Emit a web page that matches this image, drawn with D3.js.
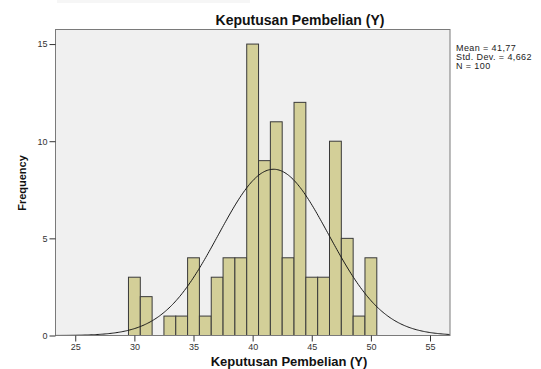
<!DOCTYPE html>
<html>
<head>
<meta charset="utf-8">
<script src="https://cdn.jsdelivr.net/npm/d3@7"></script>
<style>
  body { margin: 0; background: #fff; }
  text { font-family: "Liberation Sans", Arial, sans-serif; }
</style>
</head>
<body>
<script>
// histogram data, bin width 1
var binValues = [30, 31, 32, 33, 34, 35, 36, 37, 38, 39, 40, 41, 42, 43, 44, 45, 46, 47, 48, 49, 50];
var binCounts = [3, 2, 0, 1, 1, 4, 1, 3, 4, 4, 15, 9, 11, 4, 12, 3, 3, 10, 5, 1, 4];
var xTicks = [25, 30, 35, 40, 45, 50, 55];
var yTicks = [0, 5, 10, 15];
var mean = 41.77, sd = 4.662, n = 100;
var statLines = ["Mean = 41,77", "Std. Dev. = 4,662", "N = 100"];

var margin = { top: 29.5, left: 55.5, right: 91, bottom: 33.5 },
    width = 541 - margin.left - margin.right,
    height = 369 - margin.top - margin.bottom;

var svg = d3.select("body").append("svg")
    .attr("width", 541)
    .attr("height", 369);

// faint strip at the top
svg.append("rect")
    .attr("x", 57).attr("y", 0).attr("width", 193).attr("height", 3)
    .attr("fill", "#f6f6f6");

var x = d3.scaleLinear().domain([23.33, 56.69]).range([0, width]);
var y = d3.scaleLinear().domain([0, 15.75]).range([height, 0]);

var g = svg.append("g")
    .attr("transform", "translate(" + margin.left + "," + margin.top + ")");

g.append("rect")
    .attr("width", width).attr("height", height)
    .attr("fill", "#f0f0f0");

g.append("clipPath").attr("id", "clip")
  .append("rect").attr("width", width).attr("height", height);

var bins = binValues.map(function (v, i) { return { v: v, c: binCounts[i] }; })
    .filter(function (d) { return d.c > 0; });

g.selectAll(".bar")
    .data(bins)
    .enter().append("rect")
    .attr("class", "bar")
    .attr("x", function (d) { return x(d.v - 0.5); })
    .attr("width", function (d) { return x(d.v + 0.5) - x(d.v - 0.5); })
    .attr("y", function (d) { return y(d.c); })
    .attr("height", function (d) { return y(0) - y(d.c); })
    .attr("fill", "#d3cf98")
    .attr("stroke", "#3a3a3a")
    .attr("stroke-width", 1);

// normal curve
var pts = d3.range(x.domain()[0], x.domain()[1] + 0.1, 0.1).map(function (t) {
    return [t, n * Math.exp(-0.5 * Math.pow((t - mean) / sd, 2)) / (sd * Math.sqrt(2 * Math.PI))];
});
g.append("path")
    .datum(pts)
    .attr("clip-path", "url(#clip)")
    .attr("fill", "none")
    .attr("stroke", "#1a1a1a")
    .attr("stroke-width", 1)
    .attr("d", d3.line()
        .x(function (d) { return x(d[0]); })
        .y(function (d) { return y(d[1]); })
        .curve(d3.curveBasis));

g.append("rect")
    .attr("width", width).attr("height", height)
    .attr("fill", "none")
    .attr("stroke", "#7a7a7a")
    .attr("stroke-width", 1);

// axes
var xAxis = g.append("g")
    .attr("transform", "translate(0," + height + ")")
    .call(d3.axisBottom(x).tickValues(xTicks).tickSize(6).tickPadding(2));
var yAxis = g.append("g")
    .call(d3.axisLeft(y).tickValues(yTicks).tickSize(6).tickPadding(2));

[xAxis, yAxis].forEach(function (a) {
    a.select(".domain").remove();
    a.selectAll(".tick line").attr("stroke", "#333");
    a.selectAll(".tick text")
        .attr("fill", "#333")
        .style("font-size", "9px")
        .style("font-family", "'Liberation Sans', Arial, sans-serif");
});

svg.append("text")
    .attr("x", 300).attr("y", 25)
    .attr("text-anchor", "middle")
    .style("font-size", "14px").style("font-weight", "bold")
    .attr("fill", "#111")
    .text("Keputusan Pembelian (Y)");

svg.append("text")
    .attr("x", 289).attr("y", 366)
    .attr("text-anchor", "middle")
    .style("font-size", "13px").style("font-weight", "bold")
    .attr("fill", "#111")
    .text("Keputusan Pembelian (Y)");

svg.append("text")
    .attr("transform", "translate(26,183) rotate(-90)")
    .attr("text-anchor", "middle")
    .style("font-size", "11px").style("font-weight", "bold")
    .attr("fill", "#111")
    .text("Frequency");

svg.selectAll(".stat")
    .data(statLines)
    .enter().append("text")
    .attr("class", "stat")
    .attr("x", 456)
    .attr("y", function (d, i) { return 51 + i * 9; })
    .style("font-size", "9px")
    .style("letter-spacing", "0.4px")
    .attr("fill", "#222")
    .text(function (d) { return d; });
</script>
</body>
</html>
